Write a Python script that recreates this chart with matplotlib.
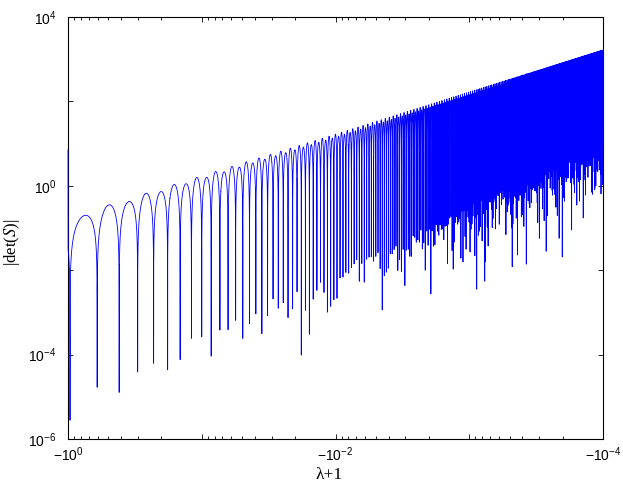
import numpy as np
import matplotlib
matplotlib.use('Agg')
import matplotlib.pyplot as plt
from matplotlib.ticker import FixedLocator, FixedFormatter, LogLocator, NullFormatter, NullLocator

plt.rcParams['mathtext.fontset'] = 'custom'
plt.rcParams['mathtext.rm'] = 'Liberation Sans'
plt.rcParams['mathtext.it'] = 'Liberation Sans:italic'
plt.rcParams['agg.path.chunksize'] = 20000

# --- values ---
# top of the taller arches at each decade of |lambda+1|
env_m = [1.0, 1e-1, 1e-2, 1e-3, 1e-4]
env_top = [0.176, 1.72, 16.8, 168.0, 1660.0]
# first point on the left spine (lambda+1 = -1)
start_m = 1.0
start_val = 7.0
# zeros of det(S): first one and spacing, in units of 1/sqrt(|lambda+1|)
first_zero_s = 1.0175
zero_step_s = 0.268
# taller arch / shorter arch
arch_ratio = 1.175
n_samples = 400000

# axis ticks
x_ticks = [1.0, 1e-1, 1e-2, 1e-3, 1e-4]
x_labels = [r'$-10^{0}$', '', r'$-10^{-2}$', '', r'$-10^{-4}$']
y_ticks = [1e-6, 1e-4, 1e-2, 1e0, 1e2, 1e4]
y_labels = [r'$10^{-6}$', r'$10^{-4}$', '', r'$10^{0}$', '', r'$10^{4}$']

# build |det(S)| along |lambda+1|
m = np.logspace(0, -4, n_samples)
s = 1.0 / np.sqrt(m)
phase = np.pi * (s - first_zero_s) / zero_step_s
delta = (arch_ratio - 1) / (arch_ratio + 1)
top = 10 ** np.interp(-np.log10(m), -np.log10(env_m), np.log10(env_top))
det = top / (1 + delta) * np.abs(np.sin(phase)) * (1 - delta * np.sin(phase))
x = np.r_[start_m, m]
y = np.maximum(np.r_[start_val, det], 1e-6)

fig = plt.figure(figsize=(6.23, 4.88), dpi=100)
ax = fig.add_axes([68 / 623, 1 - 439 / 488, 535 / 623, 422 / 488])

# drawn over the spines, as in the original (the first point sits on the left spine)
ax.plot(x, y, color='#0000ff', lw=0.6, zorder=3, clip_on=False)

ax.set_xscale('log')
ax.set_yscale('log')
ax.set_xlim(1, 1e-4)
ax.set_ylim(1e-6, 1e4)

ax.xaxis.set_major_locator(FixedLocator(x_ticks))
ax.xaxis.set_major_formatter(FixedFormatter(x_labels))
ax.xaxis.set_minor_locator(LogLocator(base=10, subs=np.arange(2, 10), numticks=20))
ax.xaxis.set_minor_formatter(NullFormatter())
ax.yaxis.set_major_locator(FixedLocator(y_ticks))
ax.yaxis.set_major_formatter(FixedFormatter(y_labels))
ax.yaxis.set_minor_locator(NullLocator())

ax.tick_params(which='both', direction='in', top=True, right=True, width=0.6, labelsize=10)
ax.tick_params(which='major', length=3.6)
ax.tick_params(which='minor', length=2.0)
ax.tick_params(axis='x', pad=4.5)
ax.tick_params(axis='y', pad=8.5)
for sp in ax.spines.values():
    sp.set_linewidth(0.8)

ax.set_xlabel('λ+1', family='Liberation Serif', fontsize=12.5)
ax.set_ylabel(r'|det($\mathit{S}$)|', family='Liberation Serif', fontsize=12,
              math_fontfamily='stix')
ax.xaxis.set_label_coords(0.488, -0.066)
ax.yaxis.set_label_coords(-0.086, 0.465)

fig.savefig('out.png', dpi=100)
